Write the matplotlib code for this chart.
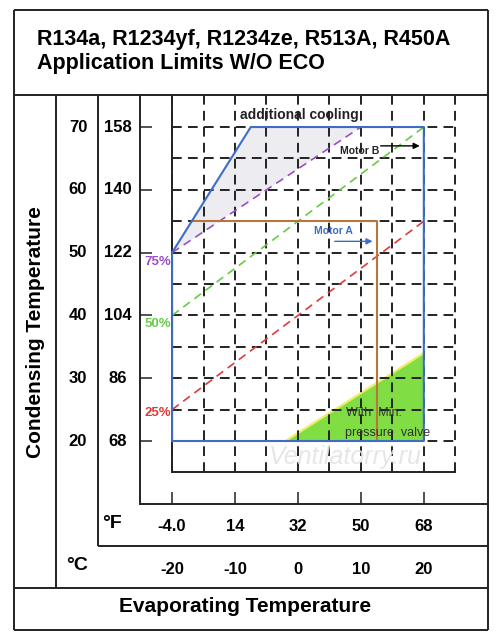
import matplotlib
matplotlib.use("Agg")
import matplotlib.pyplot as plt

plt.rcParams["font.family"] = ["Liberation Sans", "DejaVu Sans"]
plt.rcParams["lines.scale_dashes"] = False

# envelope (evaporating degC, condensing degC)
env_x = [-20, -20, -7.5, 20, 20, -20]
env_y = [20, 50, 70, 70, 20, 20]

# additional cooling area
cool_x = [-20, -7.5, 10]
cool_y = [50, 70, 70]

# part load lines
load_names = ["75%", "50%", "25%"]
load_x = [[-20, 10], [-20, 20], [-20, 20]]
load_y = [[50, 70], [40, 70], [25, 55]]
load_colors = ["#9a4fc4", "#66cc44", "#e03a3a"]
load_label_y = [48.5, 38.7, 24.5]

# motor A limit
motor_a_x = [-16.875, 12.5, 12.5]
motor_a_y = [55, 55, 20]

# min. pressure valve area
valve_x = [-2, 20, 20]
valve_y = [20, 34, 20]

# axis ticks
cond_c = [20, 30, 40, 50, 60, 70]
cond_f = ["68", "86", "104", "122", "140", "158"]
evap_c = [-20, -10, 0, 10, 20]
evap_c_lbl = ["-20", "-10", "0", "10", "20"]
evap_f = ["-4.0", "14", "32", "50", "68"]
grid_x = [-20, -15, -10, -5, 0, 5, 10, 15, 20, 25]
grid_y = [20, 25, 30, 35, 40, 45, 50, 55, 60, 65, 70]

fig = plt.figure(figsize=(5, 6.44), dpi=100)

# frame of the table around the chart, in pixels
frame = fig.add_axes([0, 0, 1, 1], zorder=0)
frame.set_xlim(0, 500)
frame.set_ylim(644, 0)
frame.axis("off")
lw_f = 1.4
for (x0, y0, x1, y1) in [(14, 10, 488, 10), (14, 630, 488, 630), (14, 10, 14, 630),
                         (488, 10, 488, 630), (14, 95, 488, 95), (56, 95, 56, 588),
                         (98, 95, 98, 546), (98, 546, 488, 546), (14, 588, 488, 588)]:
    frame.plot([x0, x1], [y0, y1], color="#222222", lw=lw_f, solid_capstyle="butt")

fig.text(37 / 500, 1 - 40 / 644, "R134a, R1234yf, R1234ze, R513A, R450A",
         fontsize=15.5, fontweight="bold", va="center", ha="left")
fig.text(37 / 500, 1 - 63 / 644, "Application Limits W/O ECO",
         fontsize=15.5, fontweight="bold", va="center", ha="left")
fig.text(36 / 500, 1 - 332 / 644, "Condensing Temperature", rotation=90,
         fontsize=15, fontweight="bold", va="center", ha="center")
fig.text(245 / 500, 1 - 607 / 644, "Evaporating Temperature",
         fontsize=15, fontweight="bold", va="center", ha="center")
fig.text(112 / 500, 1 - 524 / 644, "°F", fontsize=14, fontweight="bold",
         va="center", ha="center")
fig.text(77 / 500, 1 - 566 / 644, "°C", fontsize=14, fontweight="bold",
         va="center", ha="center")

ax = fig.add_axes([140 / 500, 1 - 504 / 644, 348 / 500, 409 / 644], zorder=1)
ax.patch.set_alpha(0)
ax.set_xlim(-25.1, 30.2)
ax.set_ylim(9.97, 75.1)
for s in ["top", "right"]:
    ax.spines[s].set_visible(False)
for s in ["left", "bottom"]:
    ax.spines[s].set_linewidth(lw_f)
    ax.spines[s].set_color("#222222")
ax.set_xticks(evap_c)
ax.set_yticks(cond_c)
ax.tick_params(direction="in", length=8.5, width=1.1, labelleft=False,
               labelbottom=False, colors="#222222")

# fills below the grid
ax.fill(cool_x, cool_y, color="#ededf1", lw=0, zorder=1)
ax.fill(valve_x, valve_y, color="#80dd44", lw=0, zorder=1)
ax.plot(valve_x[:2], valve_y[:2], color="#eeee66", lw=1.6, zorder=2)

# dashed grid
for gx in grid_x:
    ax.plot([gx, gx], [15, 75.1], color="#222222", lw=1.4,
            dashes=(7, 4.5), zorder=3)
for gy in grid_y:
    ax.plot([-20, 25], [gy, gy], color="#222222", lw=1.4,
            dashes=(7, 4.5), zorder=3)
ax.plot([-20, 25], [15, 15], color="#222222", lw=1.4, zorder=3)
ax.plot([-20, -20], [15, 75.1], color="#222222", lw=1.4, zorder=3)

# part load lines
for name, lx, ly, c, yl in zip(load_names, load_x, load_y, load_colors, load_label_y):
    ax.plot(lx, ly, color=c, lw=1.2, dashes=(6, 4), zorder=4)
    ax.text(-20.2, yl, name, color=c, fontsize=9.5, fontweight="bold",
            ha="right", va="center", zorder=6)

ax.plot(motor_a_x, motor_a_y, color="#b8753c", lw=1.5, zorder=4)
ax.plot(env_x, env_y, color="#3f6cc6", lw=1.5, zorder=5)

ax.annotate("", xy=(19.8, 67), xytext=(12.7, 67),
            arrowprops=dict(arrowstyle="-|>", color="black", lw=1.0,
                            mutation_scale=9), zorder=6)
ax.text(9.8, 66.2, "Motor B", fontsize=7.5, fontweight="bold", ha="center",
        va="center", color="#222222", zorder=6)
ax.annotate("", xy=(12.3, 51.8), xytext=(5.4, 51.8),
            arrowprops=dict(arrowstyle="-|>", color="#3f6cc6", lw=1.0,
                            mutation_scale=9), zorder=6)
ax.text(5.7, 53.4, "Motor A", fontsize=7.5, fontweight="bold", ha="center",
        va="center", color="#3f6cc6", zorder=6)
ax.text(0.3, 71.9, "additional cooling", fontsize=10, fontweight="bold",
        ha="center", va="center", color="#222222", zorder=6)
ax.text(7.6, 24.5, "With  Min.", fontsize=9, ha="left", va="center",
        color="#333333", zorder=6)
ax.text(7.4, 21.3, "pressure  valve", fontsize=9, ha="left", va="center",
        color="#333333", zorder=6)
ax.text(7.5, 17.5, "Ventilatorry.ru", fontsize=18, style="italic",
        ha="center", va="center", color="#e4e4e4", alpha=0.9, zorder=6)

# tick labels in both units
xt = ax.get_xaxis_transform()
for c, f, cl in zip(evap_c, evap_f, evap_c_lbl):
    ax.text(c, -0.056, f, transform=xt, fontsize=12, fontweight="bold",
            ha="center", va="center", clip_on=False)
    ax.text(c, -0.161, cl, transform=xt, fontsize=12, fontweight="bold",
            ha="center", va="center", clip_on=False)
yt = ax.get_yaxis_transform()
for c, f in zip(cond_c, cond_f):
    ax.text(-0.178, c, str(c), transform=yt, fontsize=12, fontweight="bold",
            ha="center", va="center", clip_on=False)
    ax.text(-0.063, c, f, transform=yt, fontsize=12, fontweight="bold",
            ha="center", va="center", clip_on=False)

fig.savefig("out.png", dpi=100)
